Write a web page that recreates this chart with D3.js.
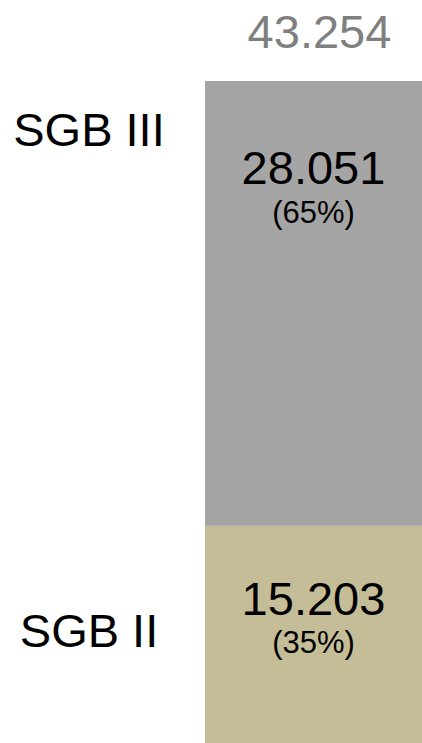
<!DOCTYPE html>
<html>
<head>
<meta charset="utf-8">
<script src="https://cdn.jsdelivr.net/npm/d3@7"></script>
<style>
  body { margin: 0; background: #fff; }
  svg { display: block; font-family: "Liberation Sans", Arial, sans-serif; }
</style>
</head>
<body>
<div id="my_dataviz"></div>
<script>
// data (bottom segment first)
var categories = ["SGB II", "SGB III"];
var values = [15203, 28051];
var colors = ["#c4bd97", "#a5a5a5"];

var width = 422, height = 743;

// label tweaks per segment (baselines relative to segment top)
var valueDy = [89, 103],
    pctDy = [127, 142],
    catDy = [121, 65];

var de = d3.formatLocale({decimal: ",", thousands: ".", grouping: [3], currency: ["", " €"]});
var fmt = de.format(",.0f");

var total = d3.sum(values);

// stack the segments
var stacked = [], acc = 0;
values.forEach(function(v, i) {
  stacked.push({cat: categories[i], value: v, y0: acc, y1: acc + v, i: i});
  acc += v;
});

var svg = d3.select("#my_dataviz")
  .append("svg")
    .attr("width", width)
    .attr("height", height);

var x = d3.scaleBand()
  .domain(["Gesamt"])
  .range([205, 422])
  .padding(0);

// bar runs past the bottom edge of the picture
var y = d3.scaleLinear()
  .domain([0, total])
  .range([767, 81]);

var cx = x("Gesamt") + x.bandwidth() / 2;

svg.selectAll("rect.seg")
  .data(stacked)
  .enter()
  .append("rect")
    .attr("class", "seg")
    .attr("x", x("Gesamt"))
    .attr("width", x.bandwidth())
    .attr("y", function(d) { return y(d.y1); })
    .attr("height", function(d) { return y(d.y0) - y(d.y1); })
    .attr("fill", function(d) { return colors[d.i]; });

// value labels
svg.selectAll("text.val")
  .data(stacked)
  .enter()
  .append("text")
    .attr("class", "val")
    .attr("x", cx)
    .attr("y", function(d) { return y(d.y1) + valueDy[d.i]; })
    .attr("text-anchor", "middle")
    .attr("font-size", "47px")
    .attr("fill", "#000")
    .text(function(d) { return fmt(d.value); });

svg.selectAll("text.pct")
  .data(stacked)
  .enter()
  .append("text")
    .attr("class", "pct")
    .attr("x", cx)
    .attr("y", function(d) { return y(d.y1) + pctDy[d.i]; })
    .attr("text-anchor", "middle")
    .attr("font-size", "31px")
    .attr("fill", "#000")
    .text(function(d) { return "(" + Math.round(d.value / total * 100) + "%)"; });

// category names on the left
svg.selectAll("text.cat")
  .data(stacked)
  .enter()
  .append("text")
    .attr("class", "cat")
    .attr("x", 89)
    .attr("y", function(d) { return y(d.y1) + catDy[d.i]; })
    .attr("text-anchor", "middle")
    .attr("font-size", "47px")
    .attr("fill", "#000")
    .text(function(d) { return d.cat; });

// total on top
svg.append("text")
  .attr("x", cx + 6)
  .attr("y", y(total) - 33)
  .attr("text-anchor", "middle")
  .attr("font-size", "47px")
  .attr("fill", "#7f7f7f")
  .text(fmt(total));
</script>
</body>
</html>
